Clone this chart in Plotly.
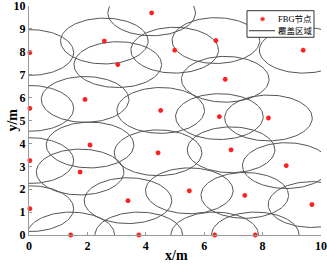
import numpy as np
import plotly.graph_objects as go

# FBG node positions (m)
node_x = [4.20, 2.58, 0.03, 3.04, 1.92, 0.03, 4.51, 6.40, 4.99, 9.39, 6.72, 6.52, 8.20,
          2.09, 4.42, 0.03, 1.75, 3.39, 0.03, 1.43, 3.76, 6.92, 8.81, 5.49, 7.39, 9.69, 6.36, 7.75]
node_y = [9.70, 8.47, 7.97, 7.44, 5.92, 5.53, 5.44, 8.49, 8.07, 8.07, 6.80, 5.17, 5.11,
          3.93, 3.59, 3.25, 2.75, 1.50, 1.15, 0.00, 0.00, 3.72, 3.03, 1.93, 1.73, 1.33, 0.00, 0.00]
# coverage semi-axes (m)
cover_a = 1.5
cover_b = 1.0

x_ticks = [0, 2, 4, 6, 8, 10]
y_ticks = list(range(0, 11))
legend_names = ["FBG节点", "覆盖区域"]

t = np.linspace(0, 2 * np.pi, 120)
ex, ey = [], []
for cx, cy in zip(node_x, node_y):
    ex.extend(list(cx + cover_a * np.cos(t)) + [None])
    ey.extend(list(cy + cover_b * np.sin(t)) + [None])

serif = "Times New Roman, Liberation Serif, Noto Sans CJK SC, serif"
red = "#ff2020"
gray = "#555555"

fig = go.Figure()
fig.add_trace(go.Scatter(x=ex, y=ey, mode="lines", name=legend_names[1],
                         line=dict(color=gray, width=1), showlegend=False))
fig.add_trace(go.Scatter(x=node_x, y=node_y, mode="markers", name=legend_names[0],
                         marker=dict(symbol="asterisk", size=4,
                                     line=dict(color=red, width=1.5), color=red),
                         cliponaxis=False, showlegend=False))

axis_common = dict(showgrid=False, zeroline=False, showline=True, linecolor="#999999",
                   linewidth=1, ticks="inside", ticklen=3, tickcolor="#999999",
                   tickfont=dict(family=serif, size=12, color="black", weight="bold"),
                   mirror=False, automargin=False, ticklabeloverflow="allow")

# compact legend box (paper coordinates)
lx0, lx1, ly0, ly1 = 0.7466, 0.976, 0.8633, 0.9795
row1, row2 = 0.943, 0.892
shapes = [
    dict(type="rect", xref="paper", yref="paper", x0=lx0, x1=lx1, y0=ly0, y1=ly1,
         fillcolor="white", line=dict(color="#333333", width=1), layer="above"),
    dict(type="line", xref="paper", yref="paper", x0=0.7534, x1=0.8425, y0=row2, y1=row2,
         line=dict(color="#333333", width=1), layer="above"),
    dict(type="circle", xref="paper", yref="paper", xsizemode="pixel", ysizemode="pixel",
         xanchor=0.800, yanchor=row1, x0=-2, x1=2, y0=-2, y1=2,
         fillcolor=red, line=dict(color="#ff8080", width=1), layer="above"),
]
legend_ann = [
    dict(text=legend_names[0], xref="paper", yref="paper", x=0.846, y=row1,
         xanchor="left", yanchor="middle", showarrow=False,
         font=dict(family=serif, size=8.5, color="black")),
    dict(text=legend_names[1], xref="paper", yref="paper", x=0.846, y=row2,
         xanchor="left", yanchor="middle", showarrow=False,
         font=dict(family=serif, size=8.5, color="black")),
]

fig.update_layout(
    width=327, height=265,
    margin=dict(l=29, r=6, t=6, b=30, autoexpand=False),
    plot_bgcolor="white", paper_bgcolor="white",
    showlegend=False,
    xaxis=dict(range=[0, 10], tickvals=x_ticks, **axis_common),
    yaxis=dict(range=[0, 10], tickvals=y_ticks, **axis_common),
    shapes=shapes,
    annotations=[
        dict(text="x/m", xref="paper", yref="paper", x=0.505, y=-0.088,
             xanchor="center", yanchor="middle", showarrow=False,
             font=dict(family=serif, size=14, color="black", weight="bold")),
        dict(text="y/m", xref="paper", yref="paper", x=-0.058, y=0.5,
             xanchor="center", yanchor="middle", showarrow=False, textangle=-90,
             font=dict(family=serif, size=14, color="black", weight="bold")),
    ] + legend_ann,
)

fig.write_html("out.html", config={"displayModeBar": False},
               post_script="document.body.style.margin='0';document.body.style.padding='0';")
